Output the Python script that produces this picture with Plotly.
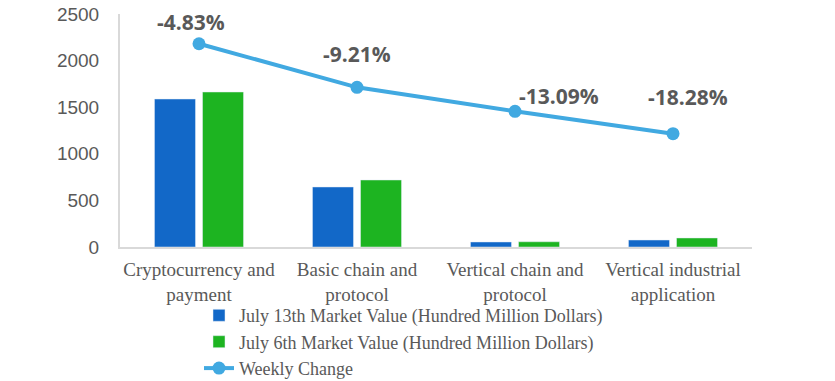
import plotly.graph_objects as go

categories = ["Cryptocurrency and<br>payment", "Basic chain and<br>protocol",
              "Vertical chain and<br>protocol", "Vertical industrial<br>application"]
july13 = [1588, 644, 54, 75]
july6 = [1663, 719, 56, 97]
# line point heights as read on the left axis scale
weekly_line = [2181, 1713, 1456, 1216]
weekly_change = ["-4.83%", "-9.21%", "-13.09%", "-18.28%"]
label_offsets = [(-8, -22), (0, -33), (44, -15), (15, -37)]

gray = "#595959"
fig = go.Figure()
fig.add_trace(go.Bar(x=categories, y=july13, name="July 13th Market Value (Hundred Million Dollars)",
                     marker_color="#1268C8"))
fig.add_trace(go.Bar(x=categories, y=july6, name="July 6th Market Value (Hundred Million Dollars)",
                     marker_color="#1DB421"))
fig.add_trace(go.Scatter(x=categories, y=weekly_line, name="Weekly Change", mode="lines+markers",
                         line=dict(color="#41A9E1", width=4), marker=dict(size=13, color="#41A9E1")))

for c, v, t, (dx, dy) in zip(categories, weekly_line, weekly_change, label_offsets):
    fig.add_annotation(x=c, y=v, text=t, showarrow=False, xshift=dx, yshift=-dy,
                       font=dict(family="Open Sans", size=21, color=gray, weight="bold"))

fig.update_layout(
    width=835, height=381,
    margin=dict(l=120, r=83, t=14, b=134, autoexpand=False),
    plot_bgcolor="white", paper_bgcolor="white",
    barmode="group", bargap=0.392, bargroupgap=0.146,
    showlegend=True,
    legend=dict(orientation="v", x=0.125, xanchor="left", y=-0.215, yanchor="top",
                font=dict(family="Liberation Serif", size=18, color=gray),
                tracegroupgap=0, itemsizing="trace", bgcolor="rgba(0,0,0,0)"),
    xaxis=dict(showline=True, linecolor="#D9D9D9", linewidth=2, ticks="", automargin=False,
               ticklabelstandoff=4,
               tickfont=dict(family="Liberation Serif", size=19, color=gray)),
    yaxis=dict(range=[0, 2500], dtick=500, showgrid=False, showline=True, linecolor="#D9D9D9",
               linewidth=2, ticks="", ticklabelstandoff=15, zeroline=False, automargin=False,
               ticklabeloverflow="allow",
               tickfont=dict(family="Liberation Sans", size=19, color=gray)),
)
fig.write_html("out.html", config={"displayModeBar": False},
               post_script="document.body.style.margin='0';")
